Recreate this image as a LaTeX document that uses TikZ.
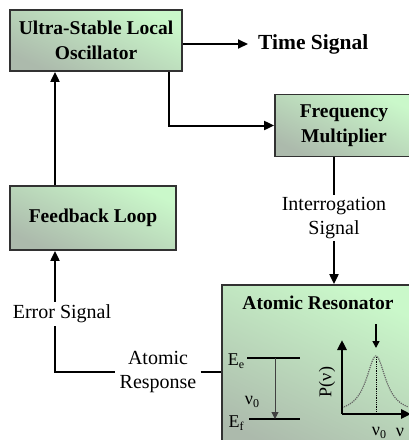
\documentclass[tikz,border=0pt]{standalone}
\usepackage{fontspec}
\setmainfont{Liberation Serif}
\usetikzlibrary{arrows.meta}
\definecolor{boxtop}{RGB}{202,248,202}
\definecolor{boxbot}{RGB}{172,186,172}
\definecolor{edgec}{RGB}{50,50,50}
\tikzset{
  blk/.style={draw=edgec, line width=1.8pt, top color=boxtop, bottom color=boxbot, shading angle=-25,
    align=center, inner sep=0pt, font=\bfseries\fontsize{19.5}{25}\selectfont},
  lbl/.style={align=center, inner sep=2pt, font=\fontsize{20}{24.5}\selectfont},
  arr/.style={line width=2pt, -{Triangle[length=10pt,width=9pt]}},
  ln/.style={line width=2pt},
  small/.style={inner sep=0pt, font=\fontsize{18}{20}\selectfont},
  subs/.style={font=\fontsize{13}{14}\selectfont},
}
\newcommand{\subtxt}[1]{\raisebox{-2.5pt}{\fontsize{12}{13}\selectfont #1}}
\begin{document}
\begin{tikzpicture}[x=1pt, y=-1pt]
\useasboundingbox (0,0) rectangle (409,440);
\clip (0,0) rectangle (409,440);
% boxes
\node[blk, minimum width=172pt, minimum height=61pt] (ulo) at (96,40.5) {Ultra-Stable Local\\Oscillator};
\node[blk, minimum width=138pt, minimum height=62pt] (fm) at (344,125.5) {Frequency\\Multiplier};
\node[blk, minimum width=166pt, minimum height=64pt] (fl) at (93,218) {Feedback Loop};
\node[blk, minimum width=190pt, minimum height=170pt] (ar) at (317,370) {};
\node[inner sep=0pt, font=\bfseries\fontsize{19.5}{25}\selectfont] (art) at (318,303) {Atomic Resonator};
% labels
\node[anchor=west, inner xsep=10pt, inner ysep=0pt, font=\bfseries\fontsize{21.5}{26}\selectfont] (ts) at (248,44) {Time Signal};
\node[lbl] (is) at (334,218) {Interrogation\\Signal};
\node[lbl, inner sep=3pt] (es) at (62,314) {Error Signal};
\node[lbl, inner xsep=4pt] (resp) at (158,372) {Atomic\\Response};
\coordinate (xl) at (55,0);
% connectors
\draw[arr] (ts.west -| ulo.east) -- (ts.west);
\draw[arr] ([xshift=73pt]ulo.south) |- (fm.west);
\draw[ln] (fm.south -| is) -- (is.north);
\draw[arr] (is.south) -- (ar.north -| is);
\draw[arr] (fl.north -| xl) -- (ulo.south -| xl);
\draw[arr] (es.north -| xl) -- (fl.south -| xl);
\draw[ln] (es.south -| xl) |- (resp.west);
\draw[ln] (resp.east) -- (ar.west |- resp.east);
% energy levels
\draw[line width=2.2pt] (247,358) -- (300,358);
\draw[line width=2.2pt] (249,419) -- (300,419);
\draw[line width=1pt, black!75, -{Triangle[length=7pt,width=7pt]}] (275,358) -- (275,419);
\node[small] (ee) at (236,361) {E\subtxt{e}};
\node[small] (ef) at (236,423) {E\subtxt{f}};
\node[small] (nu0a) at (252,402) {ν\subtxt{0}};
% resonance plot
\draw[black!60, line width=1.2pt, densely dotted] plot[domain=342:408, samples=60, smooth] (\x, {414-58/(1+((\x-376)/12)^2)});
\draw[densely dotted, line width=0.8pt] (376,357) -- (376,414);
\draw[line width=1.5pt, -{Triangle[length=7pt,width=7pt]}] (376,324) -- (376,348);
\draw[line width=2.5pt, -{Triangle[length=10pt,width=9pt]}] (342,414) -- (342,340);
\draw[line width=2.5pt, -{Triangle[length=10pt,width=9pt]}] (342,414) -- (411,414);
\node[small, rotate=90] (pnu) at (327,382) {P(ν)};
\node[small] (nu0b) at (379,433) {ν\subtxt{0}};
\node[small] (nu) at (400,432) {ν};
\end{tikzpicture}
\end{document}
